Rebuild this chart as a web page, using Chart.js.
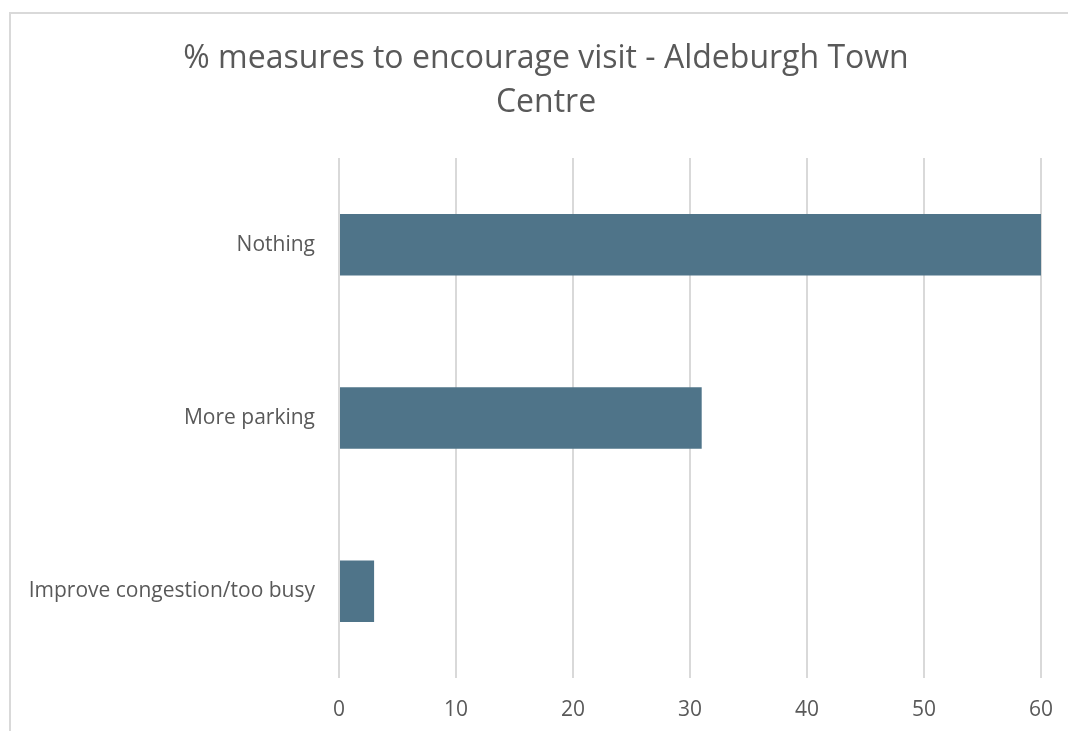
<!DOCTYPE html>
<html>
<head>
<meta charset="utf-8">
<script src="https://cdn.jsdelivr.net/npm/chart.js@4/dist/chart.umd.min.js"></script>
<style>
  html, body { margin: 0; padding: 0; background: #fff; overflow: hidden; }
  #frame { position: absolute; left: 9px; top: 12px; width: 1200px; height: 900px; border: 2px solid #D9D9D9; box-sizing: border-box; }
  #wrap { position: absolute; left: 0; top: 0; width: 1072px; height: 731px; }
</style>
</head>
<body>
<div id="frame"></div>
<div id="wrap"><canvas id="c" width="1072" height="731"></canvas></div>
<script>
const titleLines = ['% measures to encourage visit - Aldeburgh Town', 'Centre'];
const categories = ['Nothing', 'More parking', 'Improve congestion/too busy'];
const values = [60, 31, 3];
const xTicks = [0, 10, 20, 30, 40, 50, 60];

const textColor = '#595959';
const fontFamily = '"Open Sans", "Noto Sans", sans-serif';

// let category labels extend past the y-axis box (they are wider than the left margin)
const noLabelClip = {
  id: 'noLabelClip',
  afterLayout(chart) {
    const y = chart.scales.y;
    if (y) y._computeLabelArea = function () { return undefined; };
  }
};

new Chart(document.getElementById('c'), {
  type: 'bar',
  data: {
    labels: categories,
    datasets: [{
      data: values,
      backgroundColor: '#4F7489',
      borderWidth: 0,
      categoryPercentage: 1,
      barPercentage: 0.355
    }]
  },
  plugins: [noLabelClip],
  options: {
    indexAxis: 'y',
    responsive: false,
    animation: false,
    devicePixelRatio: 1,
    layout: { padding: { left: 51, right: 31, top: 0, bottom: 0 } },
    plugins: {
      legend: { display: false },
      tooltip: { enabled: false },
      title: {
        display: true,
        text: titleLines,
        color: textColor,
        font: { family: fontFamily, size: 32, weight: 'normal', lineHeight: 44 / 32 },
        padding: { top: 37, bottom: 33 }
      }
    },
    scales: {
      x: {
        min: 0,
        max: 60,
        afterBuildTicks: (scale) => { scale.ticks = xTicks.map(v => ({ value: v })); },
        afterFit: (scale) => { scale.height = 53; },
        grid: { color: '#D9D9D9', lineWidth: 2, drawTicks: false },
        border: { display: false },
        ticks: { color: textColor, font: { family: fontFamily, size: 21 }, padding: 19 }
      },
      y: {
        afterFit: (scale) => { scale.width = 288; },
        grid: { display: false, drawTicks: false },
        border: { display: false },
        ticks: { color: textColor, font: { family: fontFamily, size: 21 }, padding: 24 }
      }
    }
  }
});
</script>
</body>
</html>
